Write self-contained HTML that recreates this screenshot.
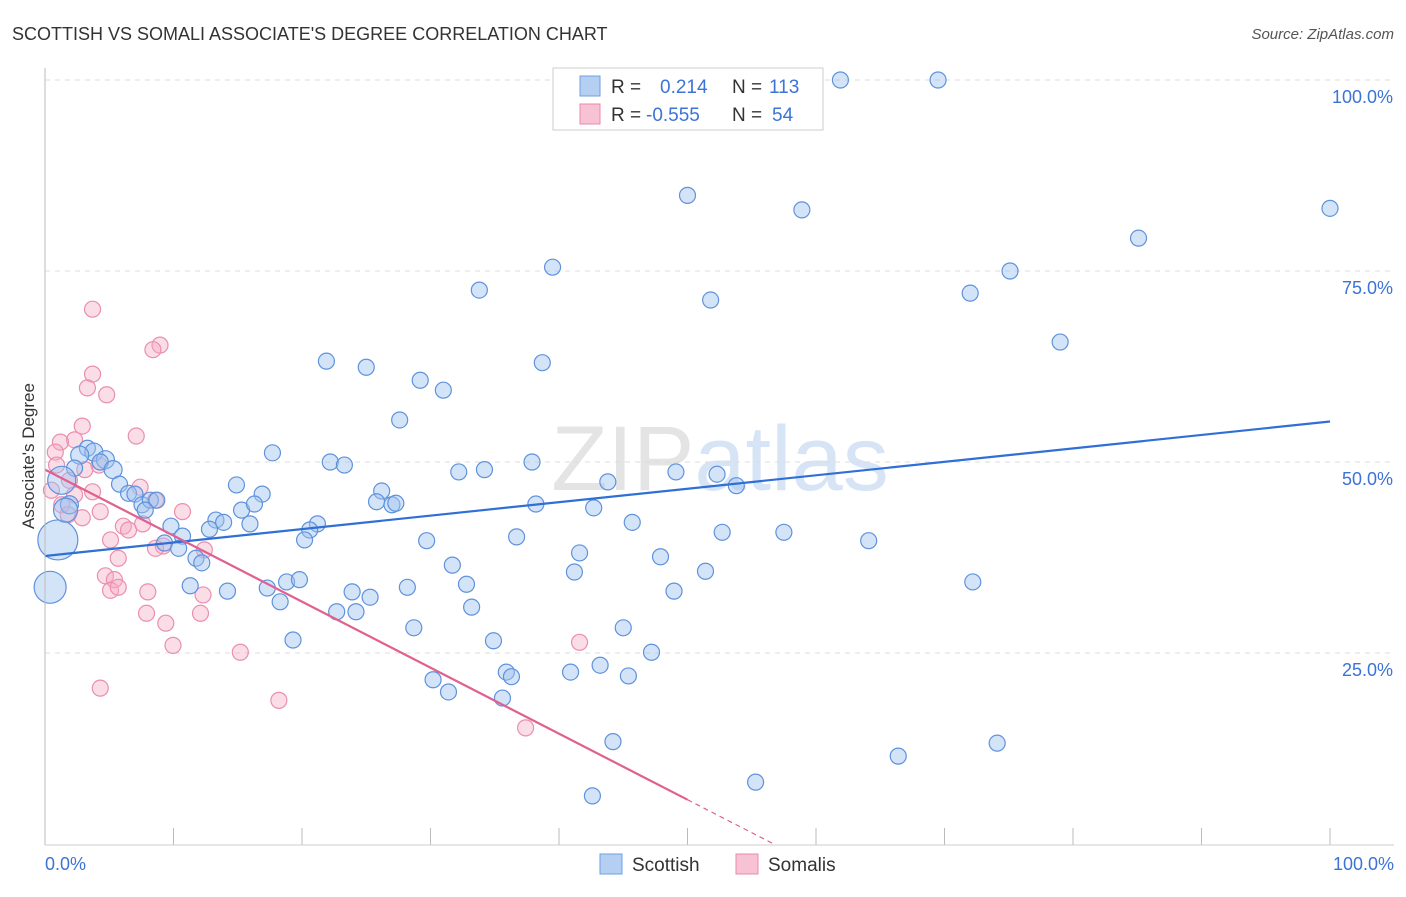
<!DOCTYPE html>
<html><head><meta charset="utf-8"><style>
body{margin:0;background:#fff;font-family:"Liberation Sans",sans-serif;}
svg text{font-family:"Liberation Sans",sans-serif;}
</style></head><body>
<svg id="chart" width="1406" height="892" xmlns="http://www.w3.org/2000/svg">
<text x="12" y="40" font-size="18" fill="#333">SCOTTISH VS SOMALI ASSOCIATE'S DEGREE CORRELATION CHART</text>
<text x="1394" y="39" font-size="15" fill="#555" font-style="italic" text-anchor="end">Source: ZipAtlas.com</text>
<text x="720" y="490" font-size="92" fill="#e4e4e4" text-anchor="middle" font-family="Liberation Serif">ZIP<tspan fill="#d6e4f5" font-family="Liberation Sans">atlas</tspan></text>
<text transform="translate(34,456) rotate(-90)" font-size="17" fill="#333" text-anchor="middle">Associate's Degree</text>
<g id="grid"></g><g id="pts"></g><g id="trend"></g>
<line x1="45" y1="68" x2="45" y2="845" stroke="#bbb"/>
<line x1="45" y1="845" x2="1394" y2="845" stroke="#ccc"/>
<text x="45" y="870" font-size="18" fill="#3b73d6">0.0%</text>
<text x="1394" y="870" font-size="18" fill="#3b73d6" text-anchor="end">100.0%</text>
<g>
<rect x="553" y="68" width="270" height="62" fill="#fff" stroke="#ccc"/>
<rect x="580" y="76" width="20" height="20" fill="#b5cff2" stroke="#6f9fe0"/>
<rect x="580" y="104" width="20" height="20" fill="#f7c3d4" stroke="#e98aab"/>
<text x="611" y="93" font-size="19" fill="#333">R = <tspan fill="#3b73d6" x="660">0.214</tspan><tspan x="732">N = </tspan><tspan fill="#3b73d6" x="769">113</tspan></text>
<text x="611" y="121" font-size="19" fill="#333">R = <tspan fill="#3b73d6" x="646">-0.555</tspan><tspan x="732">N = </tspan><tspan fill="#3b73d6" x="772">54</tspan></text>
</g>
<g>
<rect x="600" y="854" width="22" height="20" fill="#b5cff2" stroke="#6f9fe0"/>
<text x="632" y="871" font-size="19" fill="#333">Scottish</text>
<rect x="736" y="854" width="22" height="20" fill="#f7c3d4" stroke="#e98aab"/>
<text x="768" y="871" font-size="19" fill="#333">Somalis</text>
</g>
</svg>
<script>
const yTicks=[25,50,75,100];
const yTickLabels=["25.0%","50.0%","75.0%","100.0%"];
const xTicks=[0,10,20,30,40,50,60,70,80,90,100];
const blueX=[61.9,69.5,50.0,58.9,100,85.1,39.5,75.1,33.8,51.8,72.0,79.0,21.9,25.0,38.7,29.2,31.0,27.6,17.7,22.2,23.3,37.9,32.2,34.2,49.1,52.3,53.8,43.8,14.9,16.9,26.2,25.8,27.0,27.3,38.2,42.7,15.3,16.3,13.3,13.9,15.95,45.7,21.2,20.6,9.8,10.7,12.8,20.2,29.7,36.7,52.7,57.5,64.1,9.3,10.4,11.75,12.2,31.7,41.6,47.9,41.2,51.4,32.8,18.8,19.8,11.3,14.2,17.3,23.9,25.3,28.2,48.95,72.2,18.3,22.7,24.2,33.2,28.7,45.0,19.3,34.9,47.2,35.9,36.3,40.9,43.2,45.4,30.2,31.4,35.6,44.2,66.4,74.1,55.3,42.6,3.3,3.8,2.7,4.7,4.3,5.3,2.3,5.8,6.5,7.0,7.55,8.2,8.7,7.8,1.9,1.3,1.0,0.4,1.6];
const blueY=[100,100,84.9,83.0,83.2,79.3,75.5,75.0,72.5,71.2,72.1,65.7,63.2,62.4,63.0,60.7,59.4,55.5,51.2,50.0,49.6,50.0,48.7,49.0,48.7,48.4,46.9,47.4,47.0,45.8,46.2,44.8,44.4,44.6,44.5,44.0,43.7,44.5,42.4,42.1,41.9,42.1,41.9,41.1,41.6,40.3,41.2,39.8,39.7,40.2,40.8,40.8,39.7,39.4,38.7,37.4,36.8,36.5,38.1,37.6,35.6,35.7,34.0,34.3,34.6,33.8,33.1,33.5,33.0,32.3,33.6,33.1,34.3,31.7,30.4,30.4,31.0,28.3,28.3,26.7,26.6,25.1,22.5,21.9,22.5,23.4,22.0,21.5,19.9,19.1,13.4,11.5,13.2,8.1,6.3,51.8,51.3,50.9,50.3,50.0,49.0,49.2,47.1,45.9,45.8,44.4,45.0,45.0,43.7,44.4,47.6,39.8,33.6,43.7];
const blueR=[8,8,8,8,8,8,8,8,8,8,8,8,8,8,8,8,8,8,8,8,8,8,8,8,8,8,8,8,8,8,8,8,8,8,8,8,8,8,8,8,8,8,8,8,8,8,8,8,8,8,8,8,8,8,8,8,8,8,8,8,8,8,8,8,8,8,8,8,8,8,8,8,8,8,8,8,8,8,8,8,8,8,8,8,8,8,8,8,8,8,8,8,8,8,8,8,9,9,9,8,9,8,8,8,8,8,8,8,8,9,14,20,16,12];
const pinkX=[3.7,8.95,8.4,3.7,3.3,4.8,2.9,7.1,2.3,1.2,0.8,0.9,4.2,3.1,7.4,3.7,1.9,2.3,0.5,1.3,4.3,1.8,2.9,10.7,8.6,6.1,6.5,7.6,5.1,9.2,8.6,12.4,5.7,4.7,5.4,5.1,5.7,8.0,12.3,7.9,12.1,9.4,9.96,15.2,41.6,4.3,18.2,37.4];
const pinkY=[70.0,65.3,64.7,61.5,59.7,58.8,54.7,53.4,52.9,52.6,51.3,49.6,49.6,49.0,46.7,46.1,47.6,45.7,46.3,44.4,43.5,43.1,42.7,43.5,45.0,41.6,41.1,41.9,39.8,39.0,38.7,38.5,37.4,35.1,34.6,33.2,33.6,33.0,32.6,30.2,30.2,28.9,26.0,25.1,26.4,20.4,18.8,15.2];
const blueTrend=[37.7,55.3];
const pinkTrend=[49.0,-0.864];
const X=v=>45+v*12.85, Y=v=>844-v*7.64;
const NS="http://www.w3.org/2000/svg";
function mk(tag,attrs,parent){const e=document.createElementNS(NS,tag);for(const k in attrs)e.setAttribute(k,attrs[k]);parent.appendChild(e);return e;}
const grid=document.getElementById('grid');
yTicks.forEach((t,i)=>{
 const l=mk('line',{x1:45,x2:1394,y1:Y(t),y2:Y(t),stroke:'#ddd','stroke-dasharray':'5,5'},grid);
 
 
 const tx=mk('text',{x:1393,y:Y(t)+23,'font-size':18,fill:'#3b73d6','text-anchor':'end'},grid);
 tx.textContent=yTickLabels[i];
 
 
});
xTicks.forEach(t=>{
 const l=mk('line',{x1:X(t),x2:X(t),y1:828,y2:845,stroke:'#bbb'},grid);
 
 
});
const pts=document.getElementById('pts');
pinkX.forEach((x,i)=>{
 const c=mk('circle',{cx:X(x),cy:Y(pinkY[i]),r:8,fill:'rgba(245,170,195,0.4)',stroke:'#ea8fae','stroke-width':1.2},pts);
 
 
});
blueX.forEach((x,i)=>{
 const c=mk('circle',{cx:X(x),cy:Y(blueY[i]),r:blueR[i],fill:'rgba(160,195,240,0.45)',stroke:'#5f92dc','stroke-width':1.2},pts);
 
 
});
const tr=document.getElementById('trend');
const b=mk('line',{x1:X(0),y1:Y(blueTrend[0]),x2:X(100),y2:Y(blueTrend[1]),stroke:'#2f6fd6','stroke-width':2.2},tr);


const pEnd=50, pZero=-pinkTrend[0]/pinkTrend[1];
const p=mk('line',{x1:X(0),y1:Y(pinkTrend[0]),x2:X(pEnd),y2:Y(pinkTrend[0]+pinkTrend[1]*pEnd),stroke:'#e0608f','stroke-width':2.2},tr);


const pd=mk('line',{x1:X(pEnd),y1:Y(pinkTrend[0]+pinkTrend[1]*pEnd),x2:X(pZero),y2:Y(0),stroke:'#e0608f','stroke-width':1.2,'stroke-dasharray':'5,4'},tr);


</script>
</body></html>
